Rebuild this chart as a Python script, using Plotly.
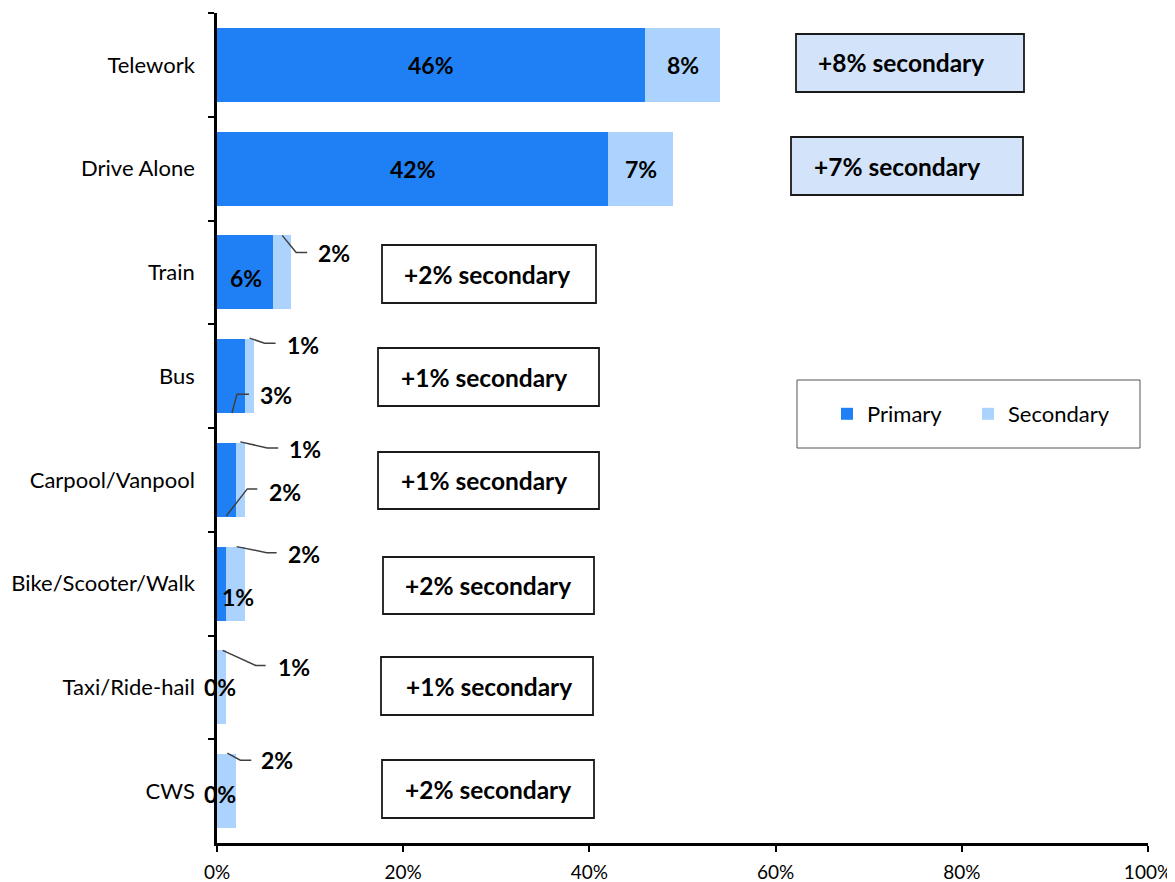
import plotly.graph_objects as go

# ---------------- data ----------------
categories = ["Telework", "Drive Alone", "Train", "Bus", "Carpool/Vanpool",
              "Bike/Scooter/Walk", "Taxi/Ride-hail", "CWS"]
primary = [46, 42, 6, 3, 2, 1, 0, 0]
secondary = [8, 7, 2, 1, 1, 2, 1, 2]
x_ticks = [0, 20, 40, 60, 80, 100]
x_tick_labels = ["0%", "20%", "40%", "60%", "80%", "100%"]
series_names = ["Primary", "Secondary"]

# ---------------- style ----------------
C_PRI = "#1F80F5"
C_SEC = "#ABD3FE"
C_BOX = "#D3E4FA"
FONT = "Lato"

OFF = 8  # page body margin
W, H = 1175 - OFF, 882 - OFF
# plot area in screen pixels: x 217..1148, y 13..843
ML, MT = 217 - OFF, 13 - OFF
MR, MB = W - (1148 - OFF), H - (843 - OFF)
PW, PH = W - ML - MR, H - MT - MB


def px_x(p):
    return (p - OFF - ML) / PW


def px_y(p):
    return (H - MB - (p - OFF)) / PH


fig = go.Figure()
fig.add_trace(go.Bar(y=categories, x=primary, orientation="h", name=series_names[0],
                     marker=dict(color=C_PRI, line=dict(width=0))))
fig.add_trace(go.Bar(y=categories, x=secondary, orientation="h", name=series_names[1],
                     marker=dict(color=C_SEC, line=dict(width=0))))

annotations = []
shapes = []

# label placement styles per category: (mode, label dx, label dy, leader path pts)
sec_style = [
    ("in", 0, 0, None),
    ("in", 0, 0, None),
    ("call", 34, 19, [(0, 37), (14, 20), (25, 20)]),
    ("call", 35, 31, [(0, 38), (15, 33), (26, 33)]),
    ("call", 47, 31, [(0, 38), (27, 32), (38, 32)]),
    ("call", 50, 30, [(1, 37), (31, 31), (41, 31)]),
    ("call", 54, 20, [(1, 37), (34, 22), (44, 22)]),
    ("call", 33, 31, [(1, 38), (14, 31), (25, 31)]),
]
pri_style = [
    ("in", 0, 0, None),
    ("in", 0, 0, None),
    ("in", 1, -6, None),
    ("call", 27, -19, [(1, -37), (6, -18), (18, -18)]),
    ("call", 41, -12, [(0, -36), (21, -9), (31, -9)]),
    ("in", 16, -13, None),
    ("in", 2.5, 0, None),
    ("in", 2.5, -3, None),
]

lab_font = dict(family=FONT, size=23, color="black")


def add_label(cat, xval, val, style):
    mode, dx, dy, pts = style
    annotations.append(dict(
        x=xval, y=cat, xref="x", yref="y", text=f"<b>{val}%</b>", showarrow=False,
        xanchor="left" if mode == "call" else "center", yanchor="middle",
        xshift=dx, yshift=dy, font=lab_font))
    if pts:
        path = "M" + " L".join(f"{a},{b}" for a, b in pts)
        shapes.append(dict(type="path", xref="x", yref="y", xsizemode="pixel",
                           ysizemode="pixel", xanchor=xval, yanchor=cat, path=path,
                           line=dict(color="#404040", width=1.5)))


for i, cat in enumerate(categories):
    add_label(cat, primary[i] / 2, primary[i], pri_style[i])
    add_label(cat, primary[i] + secondary[i] / 2, secondary[i], sec_style[i])

# callout boxes (screen-pixel geometry), text from data
boxes = [
    (796, 1024, 34, 92, 816, C_BOX),
    (791, 1023, 137, 195, 812, C_BOX),
    (382, 596, 245, 303, 402, "white"),
    (378, 599, 348, 406, 399, "white"),
    (378, 599, 452, 509, 399, "white"),
    (383, 594, 557, 614, 403, "white"),
    (381, 593, 657, 715, 404, "white"),
    (382, 594, 760, 818, 403, "white"),
]
for i, (x0, x1, y0, y1, tx, fill) in enumerate(boxes):
    shapes.append(dict(type="rect", xref="paper", yref="paper",
                       x0=px_x(x0), x1=px_x(x1), y0=px_y(y1), y1=px_y(y0),
                       fillcolor=fill, line=dict(color="#1a1a1a", width=1.8), layer="above"))
    annotations.append(dict(x=px_x(tx), y=px_y((y0 + y1) / 2), xref="paper", yref="paper",
                            text=f"<b>+{secondary[i]}% secondary</b>", showarrow=False,
                            xanchor="left", yanchor="middle",
                            font=dict(family=FONT, size=24.5, color="black")))

# legend frame
shapes.append(dict(type="rect", xref="paper", yref="paper",
                   x0=px_x(797), x1=px_x(1140), y0=px_y(448), y1=px_y(380),
                   fillcolor="rgba(0,0,0,0)", line=dict(color="#555555", width=1)))

fig.update_layout(
    width=W, height=H, autosize=False,
    margin=dict(l=ML, r=MR, t=MT, b=MB, autoexpand=False),
    paper_bgcolor="white", plot_bgcolor="white",
    barmode="stack", bargap=0.287,
    font=dict(family=FONT, color="black"),
    showlegend=True,
    legend=dict(orientation="h", x=px_x(827), y=px_y(414), xanchor="left", yanchor="middle",
                bgcolor="rgba(0,0,0,0)", font=dict(family=FONT, size=22, color="black"),
                entrywidth=96, entrywidthmode="pixels", itemwidth=30,
                traceorder="normal"),
    annotations=annotations,
    shapes=shapes,
)
fig.update_xaxes(range=[0, 100], tickvals=x_ticks, ticktext=x_tick_labels, automargin=False,
                 showgrid=False, zeroline=False, showline=True, linecolor="black",
                 linewidth=2.5, ticks="outside", ticklen=6, tickwidth=1.5, tickcolor="black",
                 ticklabeloverflow="allow",
                 tickfont=dict(family=FONT, size=19, color="black"), ticklabelstandoff=4)
fig.update_yaxes(categoryorder="array", categoryarray=categories, autorange="reversed",
                 automargin=False,
                 showgrid=False, zeroline=False, showline=True, linecolor="black",
                 linewidth=2.5, ticks="outside", ticklen=6, tickwidth=1.5, tickcolor="black",
                 tickson="boundaries",
                 tickfont=dict(family=FONT, size=22, color="black"), ticklabelstandoff=15)

fig.write_html("out.html")
